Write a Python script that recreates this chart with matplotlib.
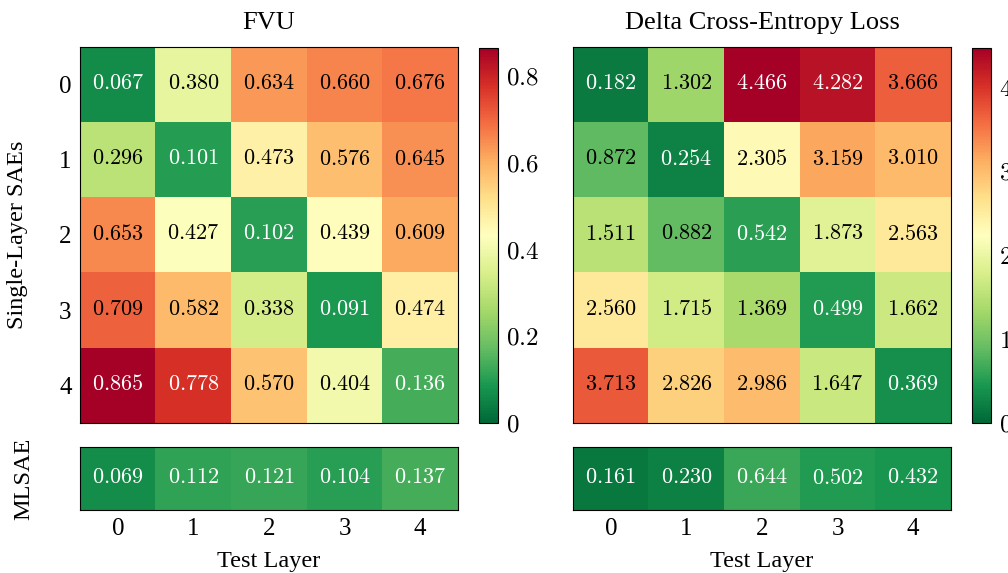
import numpy as np
import matplotlib
matplotlib.use("Agg")
import matplotlib.pyplot as plt
from matplotlib.colors import Normalize

plt.rcParams["font.family"] = "serif"
plt.rcParams["font.serif"] = ["Liberation Serif", "DejaVu Serif"]
plt.rcParams["mathtext.fontset"] = "cm"
plt.rcParams["font.size"] = 17.5

layers = [0, 1, 2, 3, 4]

fvu_single = np.array([
    [0.067, 0.380, 0.634, 0.660, 0.676],
    [0.296, 0.101, 0.473, 0.576, 0.645],
    [0.653, 0.427, 0.102, 0.439, 0.609],
    [0.709, 0.582, 0.338, 0.091, 0.474],
    [0.865, 0.778, 0.570, 0.404, 0.136],
])
fvu_mlsae = np.array([[0.069, 0.112, 0.121, 0.104, 0.137]])

ce_single = np.array([
    [0.182, 1.302, 4.466, 4.282, 3.666],
    [0.872, 0.254, 2.305, 3.159, 3.010],
    [1.511, 0.882, 0.542, 1.873, 2.563],
    [2.560, 1.715, 1.369, 0.499, 1.662],
    [3.713, 2.826, 2.986, 1.647, 0.369],
])
ce_mlsae = np.array([[0.161, 0.230, 0.644, 0.502, 0.432]])

titles = ["FVU", "Delta Cross-Entropy Loss"]
cmap = plt.get_cmap("RdYlGn_r")

fig = plt.figure(figsize=(10.08, 5.73), dpi=100)

W, H = 1008, 573


def px(x0, y0, x1, y1):
    return [x0 / W, 1 - y1 / H, (x1 - x0) / W, (y1 - y0) / H]


def draw(ax, data, norm):
    ax.imshow(data, cmap=cmap, norm=norm, aspect="auto")
    for i in range(data.shape[0]):
        for j in range(data.shape[1]):
            v = norm(data[i, j])
            color = "white" if (v < 0.17 or v > 0.86) else "black"
            ax.text(j, i, f"${data[i, j]:.3f}$", ha="center", va="center",
                    color=color, fontsize=16)
    ax.tick_params(length=0, pad=6, labelsize=18)
    for s in ax.spines.values():
        s.set_linewidth(0.8)


panels = [
    (fvu_single, fvu_mlsae, 80, 479, [0, 0.2, 0.4, 0.6, 0.8]),
    (ce_single, ce_mlsae, 573, 972, [0, 1, 2, 3, 4]),
]

for k, (single, mlsae, x0, cx, cticks) in enumerate(panels):
    norm = Normalize(vmin=0, vmax=single.max())
    ax_top = fig.add_axes(px(x0, 47, x0 + 378, 423))
    ax_bot = fig.add_axes(px(x0, 447, x0 + 378, 510))
    cax = fig.add_axes(px(cx, 48, cx + 19, 423))

    draw(ax_top, single, norm)
    draw(ax_bot, mlsae, norm)

    ax_top.set_xticks([])
    ax_top.set_title(titles[k], pad=13, fontsize=19)
    ax_bot.set_xticks(range(len(layers)))
    ax_bot.set_xticklabels(layers)
    ax_bot.set_yticks([])
    ax_bot.set_xlabel("Test Layer", labelpad=8)

    if k == 0:
        ax_top.set_yticks(range(len(layers)))
        ax_top.set_yticklabels(layers)
        ax_top.set_ylabel("Single-Layer SAEs")
        ax_top.yaxis.set_label_coords(-0.138, 0.5)
        ax_bot.set_ylabel("MLSAE")
        ax_bot.yaxis.set_label_coords(-0.122, 0.5)
    else:
        ax_top.set_yticks([])

    sm = plt.cm.ScalarMappable(norm=norm, cmap=cmap)
    cb = fig.colorbar(sm, cax=cax, ticks=cticks)
    cb.ax.set_yticklabels([f"${t:g}$" for t in cticks])
    cb.ax.tick_params(length=0, pad=6, labelsize=18)
    cb.outline.set_linewidth(0.8)

fig.savefig("out.png", dpi=100)
